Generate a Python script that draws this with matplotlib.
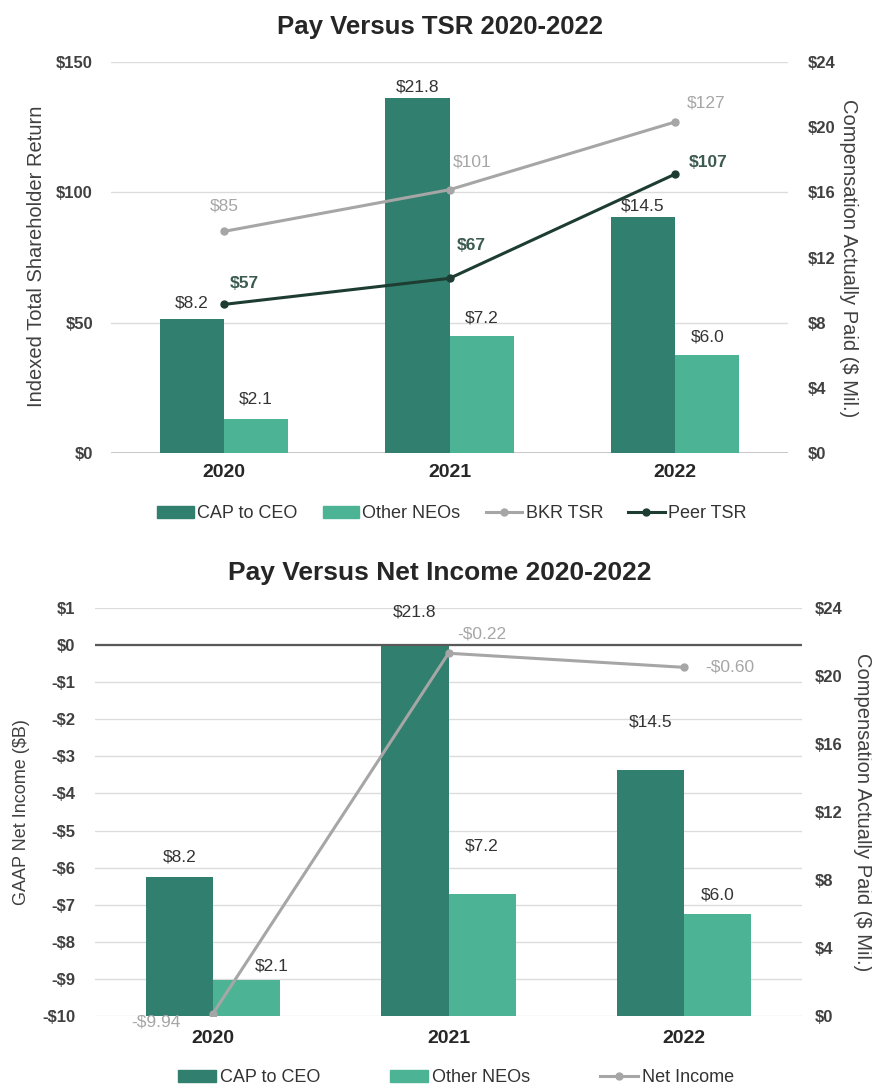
import matplotlib
matplotlib.use("Agg")
import matplotlib.pyplot as plt
from matplotlib.lines import Line2D
from matplotlib.patches import Patch
import numpy as np

plt.rcParams['font.family'] = ['Liberation Sans', 'DejaVu Sans']

# ---------------- data ----------------
years = ["2020", "2021", "2022"]
cap_ceo = [8.2, 21.8, 14.5]
other_neos = [2.1, 7.2, 6.0]
bkr_tsr = [85, 101, 127]
peer_tsr = [57, 67, 107]
net_income = [-9.94, -0.22, -0.60]

tsr_ticks = [0, 50, 100, 150]
cap_ticks = [0, 4, 8, 12, 16, 20, 24]
ni_ticks = [1, 0, -1, -2, -3, -4, -5, -6, -7, -8, -9, -10]

# ---------------- styles ----------------
C_CEO = "#317f6e"
C_NEO = "#4cb494"
C_BKR = "#a6a6a6"
C_PEER = "#1e3d32"
C_PEER_TXT = "#3b5a50"
C_GRID = "#dcdcdc"
C_TICK = "#404040"
C_TXT = "#333333"

W, H = 872, 1091
fig = plt.figure(figsize=(W / 100, H / 100), dpi=100)

x = np.arange(len(years))
bw = 0.285


def px_box(l, t, r, b):
    return [l / W, 1 - b / H, (r - l) / W, (b - t) / H]


def fmt_dollar(v, dec=0):
    s = f"{abs(v):.{dec}f}"
    return ("-$" if v < 0 else "$") + s


def style_axes(ax, axr):
    for a in (ax, axr):
        for s in a.spines.values():
            s.set_visible(False)
        a.tick_params(length=0)
    ax.set_xlim(-0.5, 2.5)
    ax.set_xticks(x)
    ax.set_xticklabels(years, fontsize=14, fontweight='bold', color="#262626")


LBL = 12.5

# ================= TOP CHART =================
ax1 = fig.add_axes(px_box(111, 62, 788, 453))
ax1r = ax1.twinx()
ax1l = ax1.twinx()
style_axes(ax1, ax1r)
for s in ax1l.spines.values():
    s.set_visible(False)
ax1l.tick_params(length=0, labelright=False, right=False)

ax1.set_ylim(0, 150)
ax1l.set_ylim(0, 150)
ax1r.set_ylim(0, 24)
ax1.set_yticks(tsr_ticks)
ax1.set_yticklabels([fmt_dollar(t) for t in tsr_ticks], fontsize=12, color=C_TICK, fontweight='bold')
ax1r.set_yticks(cap_ticks)
ax1r.set_yticklabels([fmt_dollar(t) for t in cap_ticks], fontsize=12, color=C_TICK, fontweight='bold')
ax1.tick_params(axis='y', pad=13)
ax1r.tick_params(axis='y', pad=14)
ax1.tick_params(axis='x', pad=8)
ax1.yaxis.grid(True, color=C_GRID, lw=1.0)
ax1.set_axisbelow(True)
ax1.axhline(0, color="#bfbfbf", lw=1.2)

ax1r.bar(x - bw / 2, cap_ceo, bw, color=C_CEO, zorder=2)
ax1r.bar(x + bw / 2, other_neos, bw, color=C_NEO, zorder=2)

ceo_off_top = [(0, 12), (0, 8), (0, 8)]
neo_off_top = [(0, 14), (0, 13), (0, 13)]
for i, v in enumerate(cap_ceo):
    ax1r.annotate(f"${v:.1f}", (x[i] - bw / 2, v), xytext=ceo_off_top[i], textcoords='offset points',
                  ha='center', va='center', fontsize=LBL, color=C_TXT)
for i, v in enumerate(other_neos):
    ax1r.annotate(f"${v:.1f}", (x[i] + bw / 2, v), xytext=neo_off_top[i], textcoords='offset points',
                  ha='center', va='center', fontsize=LBL, color=C_TXT)

ax1l.plot(x, bkr_tsr, color=C_BKR, lw=2.2, marker='o', ms=5, zorder=3)
ax1l.plot(x, peer_tsr, color=C_PEER, lw=2.2, marker='o', ms=5, zorder=3)

bkr_off = [(0, 18), (16, 20), (22, 14)]
peer_off = [(15, 15), (16, 24), (24, 8)]
for i, v in enumerate(bkr_tsr):
    ax1l.annotate(fmt_dollar(v), (x[i], v), xytext=bkr_off[i], textcoords='offset points',
                  ha='center', va='center', fontsize=LBL, color=C_BKR)
for i, v in enumerate(peer_tsr):
    ax1l.annotate(fmt_dollar(v), (x[i], v), xytext=peer_off[i], textcoords='offset points',
                  ha='center', va='center', fontsize=LBL, color=C_PEER_TXT, fontweight='bold')

fig.text(440 / W, 1 - 27 / H, "Pay Versus TSR 2020-2022", ha='center', va='center',
         fontsize=18.5, fontweight='bold', color="#262626")
fig.text(37 / W, 1 - 256 / H, "Indexed Total Shareholder Return", rotation=90, ha='center', va='center',
         fontsize=14.5, color=C_TICK)
fig.text(848 / W, 1 - 258 / H, "Compensation Actually Paid ($ Mil.)", rotation=270, ha='center', va='center',
         fontsize=14.5, color=C_TICK)

h1 = [Patch(color=C_CEO), Patch(color=C_NEO),
      Line2D([], [], color=C_BKR, lw=2.2, marker='o', ms=5),
      Line2D([], [], color=C_PEER, lw=2.2, marker='o', ms=5)]
fig.legend(h1, ["CAP to CEO", "Other NEOs", "BKR TSR", "Peer TSR"], loc='center',
           bbox_to_anchor=(452 / W, 1 - 514 / H), ncol=4, frameon=False, fontsize=13,
           handlelength=2.0, handleheight=0.6, handletextpad=0.2, columnspacing=1.4,
           labelcolor="#333333")

# ================= BOTTOM CHART =================
ax2 = fig.add_axes(px_box(95, 608, 802, 1016))
ax2r = ax2.twinx()
ax2l = ax2.twinx()
style_axes(ax2, ax2r)
for s in ax2l.spines.values():
    s.set_visible(False)
ax2l.tick_params(length=0, labelright=False, right=False)

ax2.set_ylim(-10, 1)
ax2l.set_ylim(-10, 1)
ax2r.set_ylim(0, 24)
ax2.set_yticks(ni_ticks)
ax2.set_yticklabels([fmt_dollar(t) for t in ni_ticks], fontsize=12, color=C_TICK, fontweight='bold')
ax2r.set_yticks(cap_ticks)
ax2r.set_yticklabels([fmt_dollar(t) for t in cap_ticks], fontsize=12, color=C_TICK, fontweight='bold')
ax2.tick_params(axis='y', pad=14)
ax2r.tick_params(axis='y', pad=9)
ax2.tick_params(axis='x', pad=10)
ax2.yaxis.grid(True, color=C_GRID, lw=1.0)
ax2.set_axisbelow(True)
ax2l.axhline(0, color="#595959", lw=1.6, zorder=2)

ax2r.bar(x - bw / 2, cap_ceo, bw, color=C_CEO, zorder=2)
ax2r.bar(x + bw / 2, other_neos, bw, color=C_NEO, zorder=2)

ceo_off_bot = [(0, 14), (0, 24), (0, 34)]
neo_off_bot = [(18, 10), (0, 34), (0, 14)]
for i, v in enumerate(cap_ceo):
    ax2r.annotate(f"${v:.1f}", (x[i] - bw / 2, v), xytext=ceo_off_bot[i], textcoords='offset points',
                  ha='center', va='center', fontsize=LBL, color=C_TXT)
for i, v in enumerate(other_neos):
    ax2r.annotate(f"${v:.1f}", (x[i] + bw / 2, v), xytext=neo_off_bot[i], textcoords='offset points',
                  ha='center', va='center', fontsize=LBL, color=C_TXT)

ax2l.plot(x, net_income, color=C_BKR, lw=2.2, marker='o', ms=5, zorder=3)
ni_off = [(-41, -6), (24, 14), (33, 0)]
for i, v in enumerate(net_income):
    ax2l.annotate(fmt_dollar(v, 2), (x[i], v), xytext=ni_off[i], textcoords='offset points',
                  ha='center', va='center', fontsize=LBL, color=C_BKR, annotation_clip=False)

fig.text(440 / W, 1 - 573 / H, "Pay Versus Net Income 2020-2022", ha='center', va='center',
         fontsize=19, fontweight='bold', color="#262626")
fig.text(22 / W, 1 - 812 / H, "GAAP Net Income ($B)", rotation=90, ha='center', va='center',
         fontsize=13, color=C_TICK)
fig.text(862 / W, 1 - 812 / H, "Compensation Actually Paid ($ Mil.)", rotation=270, ha='center', va='center',
         fontsize=14.5, color=C_TICK)

h2 = [Patch(color=C_CEO), Patch(color=C_NEO),
      Line2D([], [], color=C_BKR, lw=2.2, marker='o', ms=5)]
fig.legend(h2, ["CAP to CEO", "Other NEOs", "Net Income"], loc='center',
           bbox_to_anchor=(456 / W, 1 - 1078 / H), ncol=3, frameon=False, fontsize=13,
           handlelength=2.1, handleheight=0.6, handletextpad=0.2, columnspacing=3.9,
           labelcolor="#333333")

fig.savefig("out.png", dpi=100)
